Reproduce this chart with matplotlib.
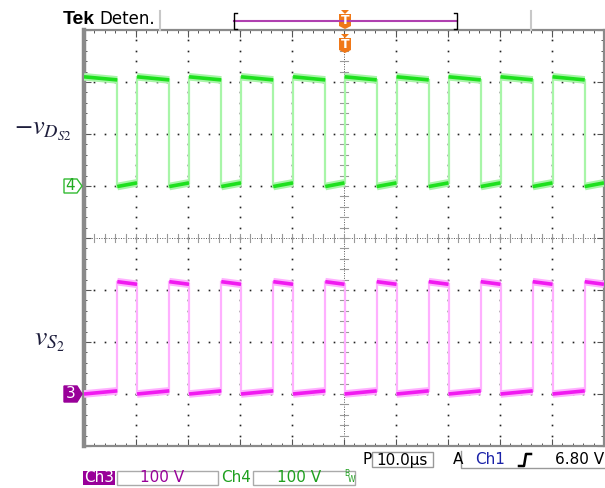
import matplotlib
matplotlib.use("Agg")
import matplotlib.pyplot as plt
from matplotlib.patches import Polygon, Rectangle
from matplotlib.lines import Line2D
import numpy as np

plt.rcParams["mathtext.fontset"] = "stix"

W, H = 605, 488

# edge times in microseconds (trigger at t = 0)
ch4_fall = [-43.6, -33.6, -23.6, -13.6, -3.6, 6.3, 16.3, 26.3, 36.3, 46.3]
ch4_rise = [-39.8, -29.8, -19.8, -9.8, 0.1, 10.1, 20.1, 30.1, 40.1]

# plateau levels in volts (start, end of each plateau)
ch4_high = (210, 204)
ch4_low = (-1, 6)
ch3_high = (216, 211)
ch3_low = (0, 6)

volts_per_div = 100
ch4_offset = 1     # ground marker, divisions from centre
ch3_offset = -3

GREEN = "#1ee01e"
GREEN_HALO = "#a8f5a8"
MAGENTA = "#f01af0"
MAGENTA_HALO = "#ffb0ff"


def fx(x):
    return x / W


def fy(y):
    return 1 - y / H


fig = plt.figure(figsize=(W / 100, H / 100), dpi=100)
fig.patch.set_facecolor("white")

# graticule: 10 x 8 divisions, pixel box 84..604 x 30..446
ax = fig.add_axes([fx(84), fy(446), (604 - 84) / W, (446 - 30) / H])
ax.set_xlim(-50, 50)
ax.set_ylim(-4, 4)
ax.set_facecolor("white")

# dotted grid
for gx in range(-40, 50, 10):
    if gx == 0:
        continue
    yy = np.arange(-4, 4.01, 0.2)
    ax.plot([gx] * len(yy), yy, ls="none", marker="s", ms=1.2, mew=0,
            color="#222222", zorder=1)
for gy in range(-3, 4):
    if gy == 0:
        continue
    xx = np.arange(-50, 50.01, 2)
    ax.plot(xx, [gy] * len(xx), ls="none", marker="s", ms=1.2, mew=0,
            color="#222222", zorder=1)

# centre cross-hair with fine ticks
ax.axhline(0, color="#555555", lw=0.7, ls=(0, (1, 1.5)), zorder=1)
ax.axvline(0, color="#555555", lw=0.7, ls=(0, (1, 1.5)), zorder=1)
for t in np.arange(-50, 50.01, 2):
    ax.plot([t, t], [-0.07, 0.07], color="#999999", lw=0.8, zorder=1)
for v in np.arange(-4, 4.01, 0.2):
    ax.plot([-0.7, 0.7], [v, v], color="#999999", lw=0.8, zorder=1)

# border ticks
ax.set_xticks(np.arange(-50, 50.01, 10))
ax.set_xticks(np.arange(-50, 50.01, 2), minor=True)
ax.set_yticks(np.arange(-4, 4.01, 1))
ax.set_yticks(np.arange(-4, 4.01, 0.2), minor=True)
ax.tick_params(which="both", direction="in", top=True, right=True,
               labelbottom=False, labelleft=False, color="#555555")
ax.tick_params(which="major", length=5, width=0.8)
ax.tick_params(which="minor", length=2.5, width=0.7)
for side in ("top", "bottom", "right"):
    ax.spines[side].set_color("#8a8a8a")
    ax.spines[side].set_linewidth(1.6)
ax.spines["left"].set_color("#8a8a8a")
ax.spines["left"].set_linewidth(3.2)


def trace(edges, first_high, high, low, offset, color, halo):
    bounds = [-50] + edges + [50]
    state = first_high
    ends = []
    for a, b in zip(bounds[:-1], bounds[1:]):
        lv = high if state else low
        y0 = lv[0] / volts_per_div + offset
        y1 = lv[1] / volts_per_div + offset
        ax.plot([a, b], [y0, y1], color=halo, lw=5.5, solid_capstyle="butt", zorder=3)
        ax.plot([a, b], [y0, y1], color=color, lw=2.6, solid_capstyle="butt", zorder=4)
        ends.append((y0, y1))
        state = not state
    for i, t in enumerate(edges):
        ya = ends[i][1]
        yb = ends[i + 1][0]
        ax.plot([t, t], [min(ya, yb), max(ya, yb)], color=halo, lw=1.6, zorder=2)


ch4_edges = sorted(ch4_fall + ch4_rise)
trace(ch4_edges, True, ch4_high, ch4_low, ch4_offset, GREEN, GREEN_HALO)
trace(ch4_edges, False, ch3_high, ch3_low, ch3_offset, MAGENTA, MAGENTA_HALO)

# ground markers
fig.patches.append(Polygon([(fx(64), fy(179)), (fx(77), fy(179)), (fx(82), fy(186)),
                            (fx(77), fy(193)), (fx(64), fy(193))], closed=True,
                           transform=fig.transFigure, facecolor="white",
                           edgecolor="#33bb33", lw=1.0))
fig.text(fx(70.5), fy(186), "4", color="#22aa22", fontsize=11, ha="center", va="center")
fig.patches.append(Polygon([(fx(64), fy(386)), (fx(77), fy(386)), (fx(82), fy(394)),
                            (fx(77), fy(402)), (fx(64), fy(402))], closed=True,
                           transform=fig.transFigure, facecolor="#990099",
                           edgecolor="#990099", lw=1.0))
fig.text(fx(70.5), fy(394), "3", color="white", fontsize=11, ha="center", va="center")

# signal labels
fig.text(fx(14), fy(130), r"$-v_{D_{S2}}$", fontsize=19, color="#1e1e3c",
         ha="left", va="center")
fig.text(fx(34), fy(340), r"$v_{S_2}$", fontsize=20, color="#1e1e3c",
         ha="left", va="center")

# top status bar
fig.text(fx(63), fy(19), "Tek", fontsize=14, fontweight="bold",
         family="Liberation Sans", ha="left", va="center")
fig.text(fx(99), fy(19), "Deten.", fontsize=12, ha="left", va="center")
for xv in (160, 531):
    fig.add_artist(Line2D([fx(xv), fx(xv)], [fy(11), fy(30)], color="#c8c8c8", lw=1.5))
fig.add_artist(Line2D([fx(234), fx(457)], [fy(21), fy(21)], color="#b040b0", lw=1.5))
for xv, d in ((234, 1), (457, -1)):
    fig.add_artist(Line2D([fx(xv + 3 * d), fx(xv), fx(xv), fx(xv + 3 * d)],
                          [fy(13), fy(13), fy(29), fy(29)], color="black", lw=1.0))

ORANGE = "#f07818"


def trig_marker(xc, ytop, hbody):
    fig.patches.append(Polygon([(fx(xc - 4), fy(ytop - 3)), (fx(xc + 4), fy(ytop - 3)),
                                (fx(xc), fy(ytop + 1))], closed=True,
                               transform=fig.transFigure, facecolor=ORANGE, edgecolor="none"))
    fig.patches.append(Polygon([(fx(xc - 6), fy(ytop + 1)), (fx(xc + 6), fy(ytop + 1)),
                                (fx(xc + 6), fy(ytop + hbody)), (fx(xc), fy(ytop + hbody + 3)),
                                (fx(xc - 6), fy(ytop + hbody))], closed=True,
                               transform=fig.transFigure, facecolor=ORANGE, edgecolor="none"))
    fig.text(fx(xc), fy(ytop + 1 + hbody / 2), "T", color="white", fontsize=9,
             fontweight="bold", ha="center", va="center")


trig_marker(345, 13, 13)
trig_marker(345, 37, 13)

# bottom readouts
fig.text(fx(362), fy(460), "P", fontsize=11, ha="left", va="center")
fig.patches.append(Rectangle((fx(372), fy(467)), fx(61), 15 / H, transform=fig.transFigure,
                             facecolor="white", edgecolor="#999999", lw=1.0))
fig.text(fx(402), fy(460), "10.0µs", fontsize=11, ha="center", va="center")
fig.text(fx(453), fy(460), "A", fontsize=11, ha="left", va="center")
fig.add_artist(Line2D([fx(461), fx(461), fx(605)], [fy(451), fy(468), fy(468)],
                      color="#999999", lw=1.0))
fig.text(fx(475), fy(460), "Ch1", fontsize=11, color="#1a22a8", ha="left", va="center")
fig.add_artist(Line2D([fx(519), fx(524), fx(526), fx(531)],
                      [fy(466), fy(466), fy(454), fy(454)], color="black", lw=1.8))
fig.text(fx(604), fy(460), "6.80 V", fontsize=11, ha="right", va="center")

fig.patches.append(Rectangle((fx(83), fy(485)), fx(32), 14 / H, transform=fig.transFigure,
                             facecolor="#990099", edgecolor="none"))
fig.text(fx(99), fy(478), "Ch3", fontsize=11, color="white", ha="center", va="center")
fig.patches.append(Rectangle((fx(117), fy(485)), fx(101), 14 / H, transform=fig.transFigure,
                             facecolor="white", edgecolor="#aaaaaa", lw=1.0))
fig.text(fx(162), fy(478), "100 V", fontsize=11, color="#990099", ha="center", va="center")
fig.text(fx(236), fy(478), "Ch4", fontsize=11, color="#1fa01f", ha="center", va="center")
fig.patches.append(Rectangle((fx(253), fy(485)), fx(102), 14 / H, transform=fig.transFigure,
                             facecolor="white", edgecolor="#aaaaaa", lw=1.0))
fig.text(fx(299), fy(478), "100 V", fontsize=11, color="#1fa01f", ha="center", va="center")
fig.text(fx(344), fy(474), "B", fontsize=5.5, color="#1fa01f", ha="left", va="center")
fig.text(fx(348), fy(479), "W", fontsize=5.5, color="#1fa01f", ha="left", va="center")

fig.savefig("out.png", dpi=100)
